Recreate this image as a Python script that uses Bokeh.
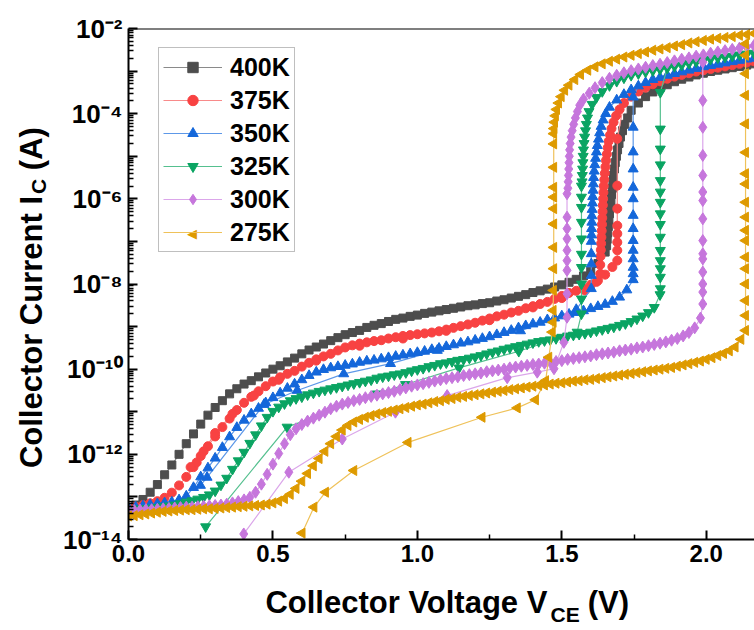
import math
import numpy as np
from bokeh.plotting import figure
from bokeh.models import (Range1d, FixedTicker, Legend, LegendItem, Label, Span, LinearAxis, LogAxis,
                          CustomJSTickFormatter, NumeralTickFormatter)
from bokeh.embed import file_html
from bokeh.resources import INLINE

# ---------------- data (log10 of collector current, A) ----------------
temps = ["400K", "375K", "350K", "325K", "300K", "275K"]

# 400K
fwd400_dv = 0.025
fwd400_logI = [-13.32, -13.19, -13.06, -12.89, -12.71, -12.48, -12.25, -12.00, -11.75, -11.52, -11.29, -11.08,
               -10.90, -10.74, -10.58, -10.46, -10.35, -10.27, -10.18, -10.09, -10.00, -9.92, -9.83, -9.74,
               -9.64, -9.55, -9.48, -9.41, -9.33, -9.26, -9.19, -9.14, -9.09, -9.02, -8.97, -8.93, -8.88,
               -8.83, -8.80, -8.76, -8.73, -8.69, -8.66, -8.63, -8.60, -8.57, -8.54, -8.51, -8.49, -8.46,
               -8.44, -8.40, -8.37, -8.33, -8.29, -8.25, -8.20, -8.16, -8.12, -8.07, -8.02, -7.96, -7.89,
               -7.81, -7.70, -7.52, -7.25]
rise400_V = [1.655, 1.657, 1.659, 1.661, 1.663, 1.665, 1.668, 1.670, 1.672, 1.675, 1.677, 1.679, 1.682, 1.685,
             1.689, 1.693, 1.698, 1.703, 1.710, 1.718, 1.728]
rise400_logI = [-7.10, -6.95, -6.80, -6.65, -6.50, -6.35, -6.20, -6.05, -5.90, -5.75, -5.60, -5.45, -5.30, -5.15,
                -5.00, -4.85, -4.70, -4.55, -4.40, -4.25, -4.10]
high400_V = [1.74, 1.765, 1.79, 1.815, 1.84, 1.865, 1.89, 1.915, 1.94, 1.965, 1.99, 2.015, 2.04, 2.065, 2.09,
             2.115, 2.14, 2.165]
high400_logI = [-3.92, -3.75, -3.60, -3.49, -3.40, -3.32, -3.25, -3.19, -3.14, -3.09, -3.05, -3.01, -2.98, -2.95,
                -2.92, -2.89, -2.86, -2.83]

# 375K
fwd375_dv = 0.025
fwd375_logI = [-13.28, -13.23, -13.19, -13.15, -13.10, -13.02, -12.90, -12.73, -12.53, -12.30, -12.04, -11.81,
               -11.58, -11.36, -11.16, -10.96, -10.79, -10.65, -10.52, -10.40, -10.29, -10.19, -10.11, -10.04,
               -9.94, -9.85, -9.77, -9.70, -9.64, -9.56, -9.49, -9.44, -9.40, -9.37, -9.34, -9.32, -9.28,
               -9.25, -9.22, -9.20, -9.18, -9.16, -9.14, -9.11, -9.07, -9.03, -8.99, -8.95, -8.91, -8.86,
               -8.81, -8.76, -8.72, -8.67, -8.63, -8.57, -8.52, -8.47, -8.42, -8.35, -8.28, -8.21, -8.16,
               -8.10, -8.02, -7.92, -7.78, -7.60]
up375_V = 1.692
up375_logI = [-7.45, -7.21, -7.02, -6.82, -6.63, -6.23, -5.69, -4.59]
high375_V = [2.165, 2.14, 2.115, 2.09, 2.065, 2.04, 2.015, 1.99, 1.965, 1.94, 1.915, 1.89, 1.865, 1.84, 1.815,
             1.79, 1.765, 1.74, 1.715]
high375_logI = [-2.77, -2.80, -2.83, -2.86, -2.89, -2.92, -2.95, -2.98, -3.01, -3.05, -3.09, -3.13, -3.18, -3.24,
                -3.31, -3.39, -3.48, -3.60, -3.75]
fall375_V = [1.700, 1.688, 1.679, 1.672, 1.667, 1.662, 1.659, 1.656, 1.653, 1.651, 1.649, 1.647, 1.645, 1.644,
             1.643, 1.642, 1.641, 1.640, 1.639, 1.638, 1.637, 1.636, 1.635, 1.634]
fall375_logI = [-3.90, -4.05, -4.20, -4.35, -4.50, -4.65, -4.80, -4.95, -5.10, -5.25, -5.40, -5.55, -5.70, -5.85,
                -6.00, -6.15, -6.30, -6.45, -6.60, -6.75, -6.90, -7.05, -7.20, -7.35]
rev375_V = [1.633, 1.633, 1.62, 1.58, 1.50, 1.40, 1.25, 1.10, 0.95, 0.80, 0.65, 0.52, 0.434, 0.36, 0.30, 0.26,
            0.236, 0.215]
rev375_logI = [-7.55, -7.76, -7.95, -8.15, -8.33, -8.55, -8.85, -9.10, -9.28, -9.45, -9.80, -10.25, -10.62,
               -11.05, -11.50, -11.93, -12.19, -12.30]

# 350K
fwd350_dv = 0.025
fwd350_logI = [-13.26, -13.24, -13.21, -13.18, -13.16, -13.14, -13.12, -13.07, -12.98, -12.78, -12.53, -12.32,
               -12.09, -11.84, -11.59, -11.37, -11.20, -11.05, -10.92, -10.79, -10.67, -10.56, -10.45, -10.35,
               -10.25, -10.15, -10.07, -10.01, -9.97, -9.94, -9.91, -9.88, -9.84, -9.81, -9.79, -9.76, -9.73,
               -9.70, -9.67, -9.64, -9.61, -9.58, -9.54, -9.51, -9.47, -9.43, -9.39, -9.36, -9.32, -9.28,
               -9.24, -9.19, -9.14, -9.09, -9.03, -8.98, -8.94, -8.90, -8.84, -8.80, -8.75, -8.71, -8.67,
               -8.63, -8.58, -8.53, -8.48, -8.41, -8.31, -8.14]
up350_V = 1.747
up350_logI = [-7.90, -7.76, -7.61, -7.41, -7.21, -6.98, -6.70, -6.39, -6.00, -5.73, -5.30, -4.90, -4.32, -3.61]
high350_V = [2.165, 2.14, 2.115, 2.09, 2.065, 2.04, 2.015, 1.99, 1.965, 1.94, 1.915, 1.89, 1.865, 1.84, 1.815,
             1.79, 1.765, 1.74, 1.715, 1.69, 1.665]
high350_logI = [-2.70, -2.72, -2.75, -2.78, -2.81, -2.84, -2.87, -2.90, -2.94, -2.98, -3.02, -3.06, -3.10, -3.15,
                -3.20, -3.27, -3.35, -3.44, -3.55, -3.68, -3.85]
fall350_V = [1.652, 1.643, 1.636, 1.631, 1.627, 1.623, 1.620, 1.617, 1.614, 1.612, 1.610, 1.609, 1.608, 1.607,
             1.606, 1.605, 1.604, 1.604, 1.603, 1.603, 1.602]
fall350_logI = [-4.00, -4.15, -4.30, -4.45, -4.60, -4.75, -4.90, -5.05, -5.20, -5.35, -5.50, -5.65, -5.80, -5.95,
                -6.10, -6.25, -6.40, -6.55, -6.70, -6.85, -7.00]
rev350_V = [1.602, 1.602, 1.602, 1.602, 1.55, 1.357, 1.069, 0.907, 0.745, 0.584, 0.469, 0.272, 0.249]
rev350_logI = [-7.29, -7.53, -7.80, -8.11, -8.60, -9.10, -9.56, -9.87, -10.11, -10.50, -10.83, -12.54, -12.73]

# 325K
fwd325_dv = 0.02
fwd325_logI = [-13.30, -13.29, -13.28, -13.27, -13.26, -13.25, -13.23, -13.21, -13.19, -13.16,
               -13.12, -13.09, -13.05, -13.01, -12.95, -12.86, -12.72, -12.56, -12.35, -12.15,
               -11.95, -11.74, -11.54, -11.33, -11.13, -10.99, -10.89, -10.81, -10.74, -10.69,
               -10.65, -10.60, -10.56, -10.52, -10.49, -10.46, -10.43, -10.40, -10.37, -10.34,
               -10.31, -10.28, -10.25, -10.21, -10.18, -10.16, -10.13, -10.11, -10.08, -10.04,
               -10.01, -9.98, -9.94, -9.91, -9.87, -9.85, -9.82, -9.79, -9.77, -9.74,
               -9.71, -9.68, -9.64, -9.60, -9.57, -9.53, -9.50, -9.47, -9.44, -9.41,
               -9.38, -9.35, -9.33, -9.31, -9.28, -9.25, -9.22, -9.20, -9.18, -9.16,
               -9.13, -9.10, -9.07, -9.04, -9.01, -8.97, -8.93, -8.88, -8.82, -8.75,
               -8.67, -8.55, -8.25]
up325_V = 1.841
up325_logI = [-8.11, -7.84, -7.64, -7.45, -7.21, -6.90, -6.60, -6.35, -6.08, -5.84, -5.57, -5.20, -4.83, -4.36,
              -3.50]
high325_V = [2.165, 2.14, 2.115, 2.09, 2.065, 2.04, 2.015, 1.99, 1.965, 1.94, 1.915, 1.89, 1.865, 1.84, 1.815,
             1.79, 1.765, 1.74, 1.715, 1.69, 1.665, 1.64, 1.62, 1.605]
high325_logI = [-2.58, -2.60, -2.62, -2.65, -2.67, -2.69, -2.72, -2.75, -2.78, -2.82, -2.86, -2.89, -2.93, -2.96,
                -2.99, -3.02, -3.06, -3.10, -3.16, -3.24, -3.34, -3.48, -3.62, -3.78]
fall325_V = [1.594, 1.589, 1.585, 1.582, 1.579, 1.577, 1.575, 1.574, 1.573, 1.572, 1.571, 1.570]
fall325_logI = [-3.95, -4.10, -4.25, -4.40, -4.55, -4.70, -4.85, -5.00, -5.15, -5.30, -5.45, -5.60]
rev325_V = [1.568, 1.568, 1.568, 1.568, 1.568, 1.568, 1.568, 1.568, 1.568, 1.568, 1.553, 1.351, 1.144, 0.959,
            0.861, 0.549, 0.267]
rev325_logI = [-5.70, -5.96, -6.20, -6.55, -6.94, -7.30, -7.61, -8.00, -8.35, -8.70, -9.13, -9.58, -9.97,
               -10.36, -10.58, -11.36, -13.70]

# 300K
fwd300_dv = 0.02
fwd300_logI = [-13.33, -13.32, -13.31, -13.30, -13.30, -13.29, -13.28, -13.27, -13.26, -13.25,
               -13.24, -13.24, -13.23, -13.22, -13.21, -13.20, -13.19, -13.17, -13.14, -13.11,
               -13.07, -13.01, -12.89, -12.70, -12.47, -12.23, -11.98, -11.75, -11.54, -11.40,
               -11.30, -11.22, -11.15, -11.08, -11.01, -10.93, -10.87, -10.82, -10.78, -10.74,
               -10.71, -10.67, -10.64, -10.61, -10.58, -10.55, -10.52, -10.48, -10.44, -10.40,
               -10.37, -10.34, -10.31, -10.28, -10.25, -10.22, -10.20, -10.18, -10.15, -10.13,
               -10.11, -10.09, -10.06, -10.04, -10.02, -10.00, -9.97, -9.95, -9.93, -9.91,
               -9.89, -9.88, -9.86, -9.84, -9.82, -9.80, -9.77, -9.75, -9.73, -9.71,
               -9.69, -9.66, -9.64, -9.62, -9.60, -9.57, -9.55, -9.53, -9.50, -9.48,
               -9.45, -9.42, -9.39, -9.36, -9.32, -9.28, -9.22, -9.14, -9.03, -8.80]
up300_V = 1.988
up300_logI = [-8.47, -8.19, -8.00, -7.72, -7.41, -7.29, -6.98, -6.47, -6.04, -5.84, -5.45, -4.98, -4.32, -3.69,
              -2.79]
high300_V = [2.165, 2.14, 2.115, 2.09, 2.065, 2.04, 2.015, 1.99, 1.965, 1.94, 1.915, 1.89, 1.865, 1.84, 1.815,
             1.79, 1.765, 1.74, 1.715, 1.69, 1.665, 1.64, 1.615, 1.595, 1.575]
high300_logI = [-2.40, -2.43, -2.46, -2.49, -2.52, -2.55, -2.58, -2.62, -2.65, -2.69, -2.72, -2.76, -2.80, -2.84,
                -2.87, -2.91, -2.95, -2.99, -3.04, -3.10, -3.17, -3.27, -3.39, -3.52, -3.66]
fall300_V = [1.562, 1.554, 1.547, 1.541, 1.536, 1.532, 1.529, 1.527, 1.526, 1.525, 1.524, 1.523, 1.522, 1.521]
fall300_logI = [-3.80, -3.95, -4.10, -4.25, -4.40, -4.55, -4.70, -4.85, -5.00, -5.15, -5.30, -5.45, -5.60, -5.75]
rev300_V = [1.518, 1.518, 1.518, 1.518, 1.518, 1.518, 1.518, 1.518, 1.518, 1.507, 1.473, 1.415, 1.311, 1.103,
            0.924, 0.740, 0.555, 0.399]
rev300_logI = [-5.88, -6.43, -6.70, -6.94, -7.21, -7.45, -7.68, -8.23, -8.78, -9.37, -9.99, -10.07, -10.20,
               -10.62, -11.01, -11.64, -12.42, -13.87]

# 275K
fwd275_dv = 0.02
fwd275_logI = [-13.45, -13.44, -13.42, -13.40, -13.38, -13.36, -13.34, -13.33, -13.32, -13.31,
               -13.30, -13.30, -13.29, -13.28, -13.28, -13.27, -13.26, -13.25, -13.24, -13.23,
               -13.22, -13.21, -13.20, -13.19, -13.17, -13.14, -13.10, -13.04, -12.94, -12.80,
               -12.63, -12.45, -12.27, -12.10, -11.93, -11.75, -11.58, -11.43, -11.32, -11.24,
               -11.18, -11.13, -11.09, -11.05, -11.02, -10.99, -10.96, -10.93, -10.90, -10.87,
               -10.84, -10.82, -10.79, -10.76, -10.74, -10.71, -10.69, -10.66, -10.64, -10.62,
               -10.60, -10.58, -10.56, -10.54, -10.52, -10.50, -10.48, -10.46, -10.44, -10.42,
               -10.40, -10.38, -10.37, -10.35, -10.33, -10.32, -10.30, -10.28, -10.27, -10.25,
               -10.24, -10.22, -10.20, -10.18, -10.16, -10.14, -10.12, -10.10, -10.08, -10.06,
               -10.04, -10.02, -10.00, -9.98, -9.96, -9.93, -9.90, -9.87, -9.84, -9.81,
               -9.77, -9.73, -9.68, -9.63, -9.57, -9.48, -9.30]
up275_V = 2.136
up275_logI = [-9.09, -8.74, -8.39, -8.00, -7.64, -7.37, -6.98, -6.74, -6.43, -6.08, -5.65, -5.41, -4.91, -4.24,
              -3.57, -3.06, -2.63, -2.36]
high275_V = [2.165, 2.14, 2.115, 2.09, 2.065, 2.04, 2.015, 1.99, 1.965, 1.94, 1.915, 1.89, 1.865, 1.84, 1.815,
             1.79, 1.765, 1.74, 1.715, 1.69, 1.665, 1.64, 1.615, 1.59, 1.565, 1.545, 1.525]
high275_logI = [-2.12, -2.14, -2.16, -2.19, -2.21, -2.23, -2.25, -2.28, -2.31, -2.34, -2.38, -2.41, -2.45, -2.48,
                -2.51, -2.55, -2.59, -2.63, -2.67, -2.72, -2.77, -2.83, -2.90, -2.98, -3.08, -3.20, -3.33]
fall275_V = [1.510, 1.498, 1.489, 1.482, 1.478, 1.475, 1.473]
fall275_logI = [-3.45, -3.60, -3.75, -3.90, -4.05, -4.20, -4.35]
rev275_V = [1.472, 1.472, 1.472, 1.472, 1.472, 1.472, 1.472, 1.472, 1.472, 1.471, 1.470, 1.470, 1.467, 1.455,
            1.444, 1.409, 1.346, 1.224, 0.968, 0.780, 0.682, 0.642, 0.601]
rev275_logI = [-4.47, -4.71, -5.26, -5.73, -5.96, -6.23, -6.59, -7.14, -7.64, -8.15, -8.62, -8.90, -9.13, -9.72,
               -10.27, -10.72, -10.91, -11.13, -11.72, -12.38, -12.89, -13.24, -13.85]

x_ticks = [0.0, 0.5, 1.0, 1.5, 2.0]
y_decades = list(range(-14, -1))

# axis titles (text pieces and the value along the axis where each piece is centred)
x_title_main = ["Collector Voltage V", "(V)"]
x_title_main_at = [0.962, 1.661]
x_title_sub = ["CE"]
x_title_sub_at = [1.5115]
y_title_main = ["Collector Current I", "(A)"]
y_title_main_at = [10 ** -9.128, 10 ** -4.821]
y_title_sub = ["C"]
y_title_sub_at = [10 ** -5.706]

# ---------------- assemble sweeps ----------------
def sweep(dv, logs):
    return list(np.round(np.arange(len(logs)) * dv, 4)), list(logs)


def const(v, logs):
    return [v] * len(logs), list(logs)


def above(vs, logs, vmin):
    pts = sorted([(v, l) for v, l in zip(vs, logs) if v >= vmin])
    return [a for a, _ in pts], [b for _, b in pts]


def join(*segs):
    xs, ls = [], []
    for sx, sl in segs:
        xs += list(sx)
        ls += list(sl)
    return np.array(xs, dtype=float), 10.0 ** np.array(ls, dtype=float)


series = [
    (join(sweep(fwd400_dv, fwd400_logI), (rise400_V, rise400_logI), (high400_V, high400_logI)), None,
     join(sweep(fwd400_dv, fwd400_logI), (rise400_V, rise400_logI), (high400_V, high400_logI))),
]
for fdv, flog, uv, ulog, hv, hlog, fav, falog, rv, rlog in [
        (fwd375_dv, fwd375_logI, up375_V, up375_logI, high375_V, high375_logI, fall375_V, fall375_logI, rev375_V, rev375_logI),
        (fwd350_dv, fwd350_logI, up350_V, up350_logI, high350_V, high350_logI, fall350_V, fall350_logI, rev350_V, rev350_logI),
        (fwd325_dv, fwd325_logI, up325_V, up325_logI, high325_V, high325_logI, fall325_V, fall325_logI, rev325_V, rev325_logI),
        (fwd300_dv, fwd300_logI, up300_V, up300_logI, high300_V, high300_logI, fall300_V, fall300_logI, rev300_V, rev300_logI),
        (fwd275_dv, fwd275_logI, up275_V, up275_logI, high275_V, high275_logI, fall275_V, fall275_logI, rev275_V, rev275_logI)]:
    fwd_line = join(sweep(fdv, flog), const(uv, ulog), above(hv, hlog, uv))
    rev_line = join((hv, hlog), (fav, falog), (rv, rlog))
    pts = join(sweep(fdv, flog), const(uv, ulog), (hv, hlog), (fav, falog), (rv, rlog))
    series.append((fwd_line, rev_line, pts))

colors = ["#4d4d4d", "#f84242", "#1467da", "#0aa462", "#c676dc", "#de9a00"]
line_colors = ["#8a8a8a", "#f88a8a", "#5d98e8", "#55c08f", "#dba6ea", "#efc25a"]
markers = ["square", "circle", "triangle", "inverted_triangle", "diamond", "triangle"]
sizes = [8, 9, 10, 10, 12, 10]
angles = [0, 0, 0, 0, 0, math.pi / 2]

FONT = "Liberation Sans"
W, H = 754, 630
FL, FT, FB = 128, 28, 539  # frame left / top / bottom in page pixels

p = figure(width=W, height=H, x_range=Range1d(0, 2.167), y_range=Range1d(1e-14, 1e-2),
           y_axis_type="log", output_backend="svg", toolbar_location=None,
           min_border_left=FL, min_border_right=0, min_border_top=FT, min_border_bottom=H - FB)
p.xgrid.visible = False
p.ygrid.visible = False
p.outline_line_color = None
p.background_fill_color = "white"
p.border_fill_color = "white"

items = []
for i, t in enumerate(temps):
    (fx, fy), rev, (px_, py_) = series[i]
    lr = p.line(fx, fy, line_color=line_colors[i], line_width=1.2)
    if rev is not None:
        p.line(rev[0], rev[1], line_color=line_colors[i], line_width=1.2)
    sr = p.scatter(px_, py_, marker=markers[i], size=sizes[i], angle=angles[i],
                   fill_color=colors[i], line_color=colors[i])
    items.append(LegendItem(label=t, renderers=[lr, sr] if i < 5 else [lr]))

# main axes
xa = p.xaxis[0]
xa.ticker = FixedTicker(ticks=x_ticks, minor_ticks=[0.25, 0.75, 1.25, 1.75, 2.25])
xa.formatter = NumeralTickFormatter(format="0.0")
ya = p.yaxis[0]
ya.ticker = FixedTicker(ticks=[10.0 ** d for d in y_decades],
                        minor_ticks=[k * 10.0 ** d for d in y_decades[:-1] for k in range(2, 10)])
ya.formatter = CustomJSTickFormatter(code="""
const e = Math.round(Math.log10(tick));
if (e % 2 !== 0) { return ""; }
const m = {"-": "\u207b", "0": "\u2070", "1": "\u00b9", "2": "\u00b2", "3": "\u00b3", "4": "\u2074",
           "5": "\u2075", "6": "\u2076", "7": "\u2077", "8": "\u2078", "9": "\u2079"};
let s = "";
for (const c of String(e)) { s += m[c]; }
return "10" + s;
""")
for ax in (xa, ya):
    ax.axis_line_width = 2
    ax.axis_line_color = "black"
    ax.major_tick_in = 9
    ax.major_tick_out = 0
    ax.minor_tick_in = 5
    ax.minor_tick_out = 0
    ax.major_tick_line_width = 2
    ax.minor_tick_line_width = 1.5
    ax.major_tick_line_color = "black"
    ax.minor_tick_line_color = "black"
    ax.major_label_text_font = FONT
    ax.major_label_text_font_style = "bold"
    ax.major_label_text_color = "black"
    ax.axis_label = None
xa.major_label_text_font_size = "24px"
ya.major_label_text_font_size = "26px"
xa.major_label_standoff = 5
ya.major_label_standoff = 6

p.add_layout(Span(location=1e-2, dimension="width", line_color="black", line_width=2))

# axis titles: text pieces drawn as labels of tick-less helper axes (so subscripts sit outside the frame)
PICK = """
let best = 0, bd = Infinity;
for (let i = 0; i < pos.length; i++) {
  const d = lg ? Math.abs(Math.log10(pos[i]) - Math.log10(tick)) : Math.abs(pos[i] - tick);
  if (d < bd) { bd = d; best = i; }
}
return txt[best];
"""


def text_axis(side, positions, texts, size, standoff, log=False, orientation="horizontal"):
    cls = LogAxis if log else LinearAxis
    ax = cls(ticker=FixedTicker(ticks=positions, minor_ticks=[]),
             formatter=CustomJSTickFormatter(args=dict(pos=positions, txt=texts, lg=log), code=PICK))
    ax.axis_line_color = None
    ax.major_tick_line_color = None
    ax.minor_tick_line_color = None
    ax.major_tick_in = 0
    ax.major_tick_out = 0
    ax.minor_tick_in = 0
    ax.minor_tick_out = 0
    ax.major_label_standoff = standoff
    ax.major_label_orientation = orientation
    ax.major_label_text_font = FONT
    ax.major_label_text_font_style = "bold"
    ax.major_label_text_font_size = size
    ax.major_label_text_color = "black"
    p.add_layout(ax, side)
    return ax


text_axis("below", x_title_main_at, x_title_main, "31px", 20)
text_axis("below", x_title_sub_at, x_title_sub, "21px", -20)
text_axis("left", y_title_main_at, y_title_main, "31px", 11, log=True, orientation="parallel")
text_axis("left", y_title_sub_at, y_title_sub, "21px", -39, log=True, orientation="parallel")

legend = Legend(items=items, location=(30, 287))
legend.label_text_font = FONT
legend.label_text_font_style = "bold"
legend.label_text_font_size = "25px"
legend.label_text_color = "black"
legend.glyph_width = 59
legend.glyph_height = 26
legend.label_height = 30
legend.label_standoff = 8
legend.spacing = 3
legend.padding = 4
legend.margin = 0
legend.border_line_color = "#808080"
legend.border_line_width = 1.5
legend.background_fill_alpha = 0.0
p.add_layout(legend)

# left-pointing triangle key for the 275K legend entry (legend glyphs ignore marker angle)
p.add_layout(Label(text="\u25c0", x=30 + 4 + 29.5, y=287 + 4 + 15, x_units="screen", y_units="screen",
                   text_font="DejaVu Sans", text_font_size="13px", text_align="center",
                   text_baseline="middle", text_color=colors[5], level="overlay"))

open("out.html", "w").write(file_html(p, INLINE))
